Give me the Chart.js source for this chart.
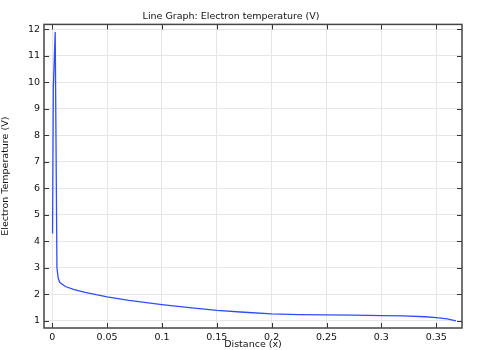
<!DOCTYPE html>
<html>
<head>
<meta charset="utf-8">
<script src="https://cdn.jsdelivr.net/npm/chart.js@4.4.0/dist/chart.umd.min.js"></script>
<style>
  html, body { margin: 0; padding: 0; background: #fff; }
  #wrap { width: 480px; height: 350px; }
</style>
</head>
<body>
<div id="wrap"><canvas id="chart" width="480" height="350"></canvas></div>
<script>
// distance along the line (x) and electron temperature (V)
const distance = [0.0003, 0.001, 0.0027, 0.0043, 0.0055, 0.007, 0.012, 0.02, 0.03, 0.04, 0.05,
  0.07, 0.1, 0.125, 0.15, 0.175, 0.2, 0.225, 0.25, 0.275, 0.3, 0.32, 0.34, 0.35, 0.36, 0.368];
const temperature = [4.3, 9.8, 11.9, 3.0, 2.6, 2.45, 2.3, 2.18, 2.08, 1.99, 1.91,
  1.78, 1.62, 1.5, 1.4, 1.33, 1.27, 1.24, 1.23, 1.22, 1.2, 1.19, 1.16, 1.13, 1.08, 1.0];
const xTicks = [0, 0.05, 0.1, 0.15, 0.2, 0.25, 0.3, 0.35];
const yTicks = [1, 2, 3, 4, 5, 6, 7, 8, 9, 10, 11, 12];

const points = distance.map((x, i) => ({ x: x, y: temperature[i] }));

// frame + inward ticks on all four sides
const frameTicks = {
  id: 'frameTicks',
  afterDraw(chart) {
    const { ctx, chartArea: a, scales } = chart;
    ctx.save();
    ctx.strokeStyle = '#333';
    ctx.lineWidth = 1;
    ctx.beginPath();
    xTicks.forEach(v => {
      const px = Math.round(scales.x.getPixelForValue(v)) + 0.5;
      ctx.moveTo(px, a.bottom); ctx.lineTo(px, a.bottom - 5);
      ctx.moveTo(px, a.top); ctx.lineTo(px, a.top + 5);
    });
    yTicks.forEach(v => {
      const py = Math.round(scales.y.getPixelForValue(v)) + 0.5;
      ctx.moveTo(a.left, py); ctx.lineTo(a.left + 5, py);
      ctx.moveTo(a.right, py); ctx.lineTo(a.right - 5, py);
    });
    ctx.stroke();
    ctx.strokeStyle = '#444';
    ctx.lineWidth = 1.5;
    ctx.strokeRect(a.left, a.top, a.right - a.left, a.bottom - a.top);
    ctx.restore();
  }
};

const font = { family: 'DejaVu Sans', size: 9.5 };

new Chart(document.getElementById('chart'), {
  type: 'scatter',
  data: {
    datasets: [{
      data: points,
      showLine: true,
      borderColor: '#2f4dff',
      borderWidth: 1.3,
      pointRadius: 0,
      tension: 0
    }]
  },
  options: {
    responsive: false,
    animation: false,
    layout: { padding: { left: 0, right: 18, top: 0, bottom: 0 } },
    plugins: {
      legend: { display: false },
      tooltip: { enabled: false },
      title: {
        display: true,
        text: 'Line Graph: Electron temperature (V)',
        color: '#111',
        font: { family: 'DejaVu Sans', size: 9.5, weight: 'normal' },
        padding: { top: 11, bottom: 2 }
      }
    },
    scales: {
      x: {
        type: 'linear',
        min: -0.0075,
        max: 0.3735,
        afterBuildTicks: s => { s.ticks = xTicks.map(v => ({ value: v })); },
        afterFit: s => { s.height = 22; },
        ticks: { color: '#111', font: font, maxRotation: 0, padding: 4, callback: v => String(v) },
        grid: { color: '#e6e6e6', drawTicks: false },
        border: { display: false },
        title: { display: true, text: 'Distance (x)', color: '#111', font: font, padding: { top: 0, bottom: 0 } }
      },
      y: {
        type: 'linear',
        min: 0.735,
        max: 12.19,
        afterBuildTicks: s => { s.ticks = yTicks.map(v => ({ value: v })); },
        afterFit: s => { s.width = 44; },
        ticks: { color: '#111', font: font, padding: 4 },
        grid: { color: '#e6e6e6', drawTicks: false },
        border: { display: false },
        title: { display: true, text: 'Electron Temperature (V)', color: '#111', font: font, padding: { top: 0, bottom: 4 } }
      }
    }
  },
  plugins: [frameTicks]
});
</script>
</body>
</html>
